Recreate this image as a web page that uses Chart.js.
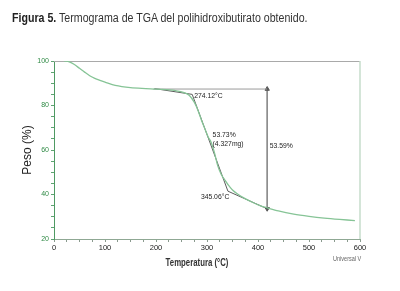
<!DOCTYPE html>
<html>
<head>
<meta charset="utf-8">
<script src="https://cdn.jsdelivr.net/npm/chart.js@4.4.1/dist/chart.umd.min.js"></script>
<style>
  html, body { margin: 0; padding: 0; background: #fff; }
  #wrap { position: relative; width: 400px; height: 291px; }
  #cap { position: absolute; left: 12px; top: 11px; font: 12.5px "Liberation Sans", Arial, sans-serif; color: #333;
         white-space: nowrap; transform: scaleX(0.85); transform-origin: left top; }
  #cap b { color: #222; }
</style>
</head>
<body>
<div id="wrap">
  <canvas id="c" width="400" height="291"></canvas>
  <div id="cap"><b>Figura 5.</b> Termograma de TGA del polihidroxibutirato obtenido.</div>
</div>
<script>
// curva TGA (temperatura °C, peso %)
const temps = [20, 30, 40, 50, 60, 70, 80, 90, 100, 120, 150, 180, 200, 220, 240, 255, 265, 275, 282, 289, 295, 302, 308, 315, 321, 328, 335, 341, 350, 360, 373, 390, 405, 418, 440, 470, 500, 530, 560, 590];
const pesos = [100, 99.6, 98.4, 96.7, 95.0, 93.4, 92.2, 91.3, 90.5, 89.0, 88.0, 87.6, 87.4, 87.1, 86.6, 85.8, 84.6, 81.5, 78.0, 73.5, 70.0, 66.0, 63.5, 58.5, 53.0, 49.0, 46.5, 44.5, 42.0, 40.2, 38.4, 36.4, 34.9, 34.0, 32.6, 31.2, 30.2, 29.4, 28.8, 28.3];

// líneas de construcción (tangentes y flecha)
const tangX = [197, 271, 341, 418];
const tangY = [87.6, 85.0, 41.5, 33.6];
const refX = [195, 418];
const refY = [87.4, 87.4];
const arrowX = [418, 418];
const arrowY = [87.4, 33.6];

const xTicks = [0, 100, 200, 300, 400, 500, 600];
const yTicks = [20, 40, 60, 80, 100];

const notes = [
  { text: "274.12°C", x: 275, y: 84.3 },
  { text: "53.73%", x: 311, y: 66.8 },
  { text: "(4.327mg)", x: 311, y: 62.7 },
  { text: "345.06°C", x: 288, y: 39.0 },
  { text: "53.59%", x: 423, y: 62.0 }
];

const pts = (xs, ys) => xs.map((x, i) => ({ x: x, y: ys[i] }));
const sans = '"Liberation Sans", Arial, sans-serif';

// texto comprimido horizontalmente
function narrowText(ctx, txt, x, y, sx) {
  ctx.save();
  ctx.translate(x, y);
  ctx.scale(sx, 1);
  ctx.fillText(txt, 0, 0);
  ctx.restore();
}

const extras = {
  id: "extras",
  beforeDatasetsDraw(chart) {
    const { ctx, chartArea: a } = chart;
    ctx.save();
    ctx.lineWidth = 1;
    ctx.strokeStyle = "#a9a9a9";
    ctx.beginPath(); ctx.moveTo(a.left, a.top + 0.5); ctx.lineTo(a.right, a.top + 0.5); ctx.stroke();
    ctx.strokeStyle = "#c6dccb";
    ctx.lineWidth = 1.5;
    ctx.beginPath(); ctx.moveTo(a.right, a.top); ctx.lineTo(a.right, a.bottom); ctx.stroke();
    ctx.restore();
  },
  afterDraw(chart) {
    const { ctx, scales } = chart;
    ctx.save();
    ctx.fillStyle = "#222";
    ctx.font = "8px " + sans;
    ctx.textBaseline = "middle";
    notes.forEach(n => narrowText(ctx, n.text, scales.x.getPixelForValue(n.x), scales.y.getPixelForValue(n.y), 0.85));
    ctx.font = "bold 10px " + sans;
    ctx.textAlign = "center";
    ctx.fillStyle = "#333";
    narrowText(ctx, "Temperatura (°C)", 197, 263, 0.78);
    ctx.font = "6.5px " + sans;
    ctx.fillStyle = "#666";
    ctx.textAlign = "left";
    narrowText(ctx, "Universal V", 333, 259, 0.85);
    ctx.restore();
  }
};

new Chart(document.getElementById("c"), {
  type: "scatter",
  data: {
    datasets: [
      { data: pts(temps, pesos), showLine: true, borderColor: "#86c496", borderWidth: 1.3, pointRadius: 0, tension: 0.3 },
      { data: pts(refX, refY), showLine: true, borderColor: "#9a9a9a", borderWidth: 1, pointRadius: 0 },
      { data: pts(tangX, tangY), showLine: true, borderColor: "#4a4a4a", borderWidth: 0.9, pointRadius: 0 },
      { data: pts(arrowX, arrowY), showLine: true, borderColor: "#8a8a8a", borderWidth: 1, pointRadius: 2.5,
        pointStyle: "triangle", rotation: [0, 180], backgroundColor: "#555", pointBorderColor: "#555" }
    ]
  },
  options: {
    responsive: false,
    animation: false,
    layout: { padding: { left: 0, right: 40, top: 61, bottom: 0 } },
    plugins: { legend: { display: false }, tooltip: { enabled: false } },
    scales: {
      x: {
        type: "linear", min: 0, max: 600,
        afterFit: s => { s.height = 52; },
        afterBuildTicks: s => { s.ticks = []; for (let v = 0; v <= 600; v += 25) s.ticks.push({ value: v }); },
        ticks: { color: "#222", font: { size: 7.5, family: sans }, padding: 1, maxRotation: 0, autoSkip: false,
          callback: v => xTicks.includes(v) ? String(v) : "" },
        grid: { drawOnChartArea: false, tickLength: 3, color: "#8a9a8e" },
        border: { color: "#8fa894", width: 1 }
      },
      y: {
        min: 20, max: 100,
        afterFit: s => { s.width = 54; },
        afterBuildTicks: s => { s.ticks = []; for (let v = 20; v <= 100; v += 5) s.ticks.push({ value: v }); },
        ticks: { color: "#2f8a45", font: { size: 7, family: sans }, padding: 2, autoSkip: false,
          callback: v => yTicks.includes(v) ? String(v) : "" },
        grid: { drawOnChartArea: false, tickLength: 3, color: "#5fa472" },
        border: { color: "#4f9a63", width: 1 },
        title: { display: true, text: "Peso (%)", color: "#222", font: { size: 12, family: sans }, padding: { top: 20 } }
      }
    }
  },
  plugins: [extras]
});
</script>
</body>
</html>
